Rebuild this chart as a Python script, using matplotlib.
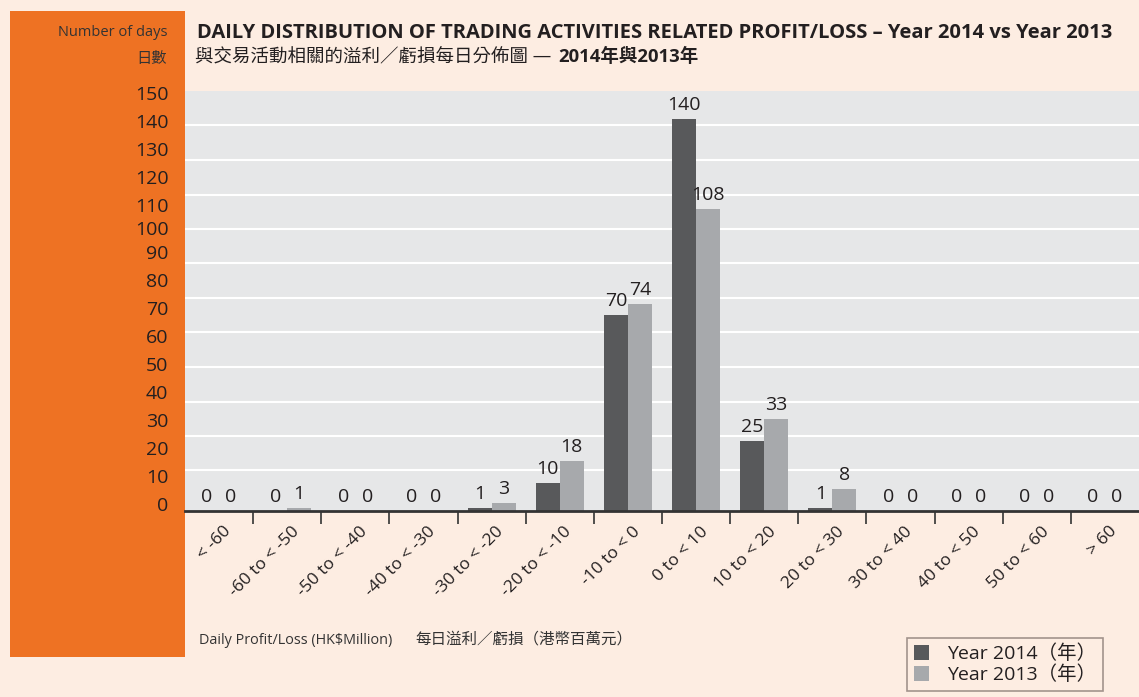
import numpy as np
import matplotlib
matplotlib.use('Agg')
from matplotlib import pyplot as plt
from matplotlib.patches import Rectangle
from matplotlib.transforms import ScaledTranslation

plt.rcParams['font.family'] = ['Open Sans', 'Noto Sans CJK TC', 'DejaVu Sans']

categories = ['< -60', '-60 to < -50', '-50 to < -40', '-40 to < -30', '-30 to < -20',
              '-20 to < -10', '-10 to < 0', '0 to < 10', '10 to < 20', '20 to < 30',
              '30 to < 40', '40 to < 50', '50 to < 60', '> 60']
days_2014 = [0, 0, 0, 0, 1, 10, 70, 140, 25, 1, 0, 0, 0, 0]
days_2013 = [0, 1, 0, 0, 3, 18, 74, 108, 33, 8, 0, 0, 0, 0]
y_ticks = list(range(0, 151, 10))
# white guide lines as drawn in the original (not on the tick values)
grid_lines = [14.6, 26.9, 39.1, 51.4, 63.8, 76.1, 88.4, 100.7, 113.0, 125.4, 137.9]

bg = '#FDEDE2'
orange = '#EE7223'
dark = '#58595B'
light = '#A7A9AC'
txt = '#231F20'

W, H = 1139, 697
fig = plt.figure(figsize=(W / 100, H / 100), dpi=100, facecolor=bg)

# orange side panel
fig.add_artist(Rectangle((10 / W, 1 - 657 / H), 175 / W, 646 / H,
                         transform=fig.transFigure, facecolor=orange,
                         edgecolor='none', zorder=0))

ax = fig.add_axes([185 / W, 1 - 511 / H, (W - 185) / W, 420 / H])
ax.set_facecolor('#E6E7E8')
ax.set_zorder(1)

x = np.arange(len(categories))
bw = 0.352
b1 = ax.bar(x - bw / 2, days_2014, bw, color=dark, zorder=3, label='Year 2014（年）')
b2 = ax.bar(x + bw / 2, days_2013, bw, color=light, zorder=3, label='Year 2013（年）')
for c in (b1, b2):
    ax.bar_label(c, padding=3.5, fontsize=14, color=txt)

for g in grid_lines:
    ax.axhline(g, color='white', lw=1.5, zorder=1)

ax.set_xlim(-0.5, len(categories) - 0.5)
ax.set_ylim(0, 150)

for s in ['top', 'right', 'left']:
    ax.spines[s].set_visible(False)
ax.spines['bottom'].set_color('#333333')
ax.spines['bottom'].set_linewidth(2)
ax.spines['bottom'].set_zorder(4)

# x: ticks on the category boundaries, labels at the centres
ax.set_xticks(x[:-1] + 0.5)
ax.set_xticklabels([])
ax.tick_params(axis='x', which='major', length=9, width=1.2, color='#333333', direction='out')
ax.set_xticks(x, minor=True)
ax.set_xticklabels(categories, minor=True, rotation=45, ha='right', va='top',
                   rotation_mode='anchor', fontsize=12.5, color=txt)
ax.tick_params(axis='x', which='minor', length=0, pad=9)
for lab in ax.get_xticklabels(minor=True):
    lab.set_transform(lab.get_transform() + ScaledTranslation(4 / 100, 0, fig.dpi_scale_trans))

# y: labels sit in the orange panel, a little above their values
ax.set_yticks(y_ticks)
ax.set_yticklabels([str(v) for v in y_ticks], fontsize=14, color=txt)
ax.tick_params(axis='y', length=0, pad=12)
for v, lab in zip(y_ticks, ax.get_yticklabels()):
    nudge = 7 if v < 100 else (3 if v == 100 else -2)
    lab.set_transform(lab.get_transform() + ScaledTranslation(0, nudge / 100, fig.dpi_scale_trans))

# texts
fig.text(167 / W, 1 - 33 / H, 'Number of days', ha='right', va='center', fontsize=10.5, color='#333333')
fig.text(167 / W, 1 - 60 / H, '日數', ha='right', va='center', fontsize=11, color='#333333')
fig.text(197 / W, 1 - 33 / H,
         'DAILY DISTRIBUTION OF TRADING ACTIVITIES RELATED PROFIT/LOSS – Year 2014 vs Year 2013',
         ha='left', va='center', fontsize=14.5, fontweight='bold', color=txt)
fig.text(195 / W, 1 - 57 / H, '與交易活動相關的溢利／虧損每日分佈圖 —', ha='left', va='center',
         fontsize=13.3, fontweight='medium', color=txt)
fig.text(558 / W, 1 - 57 / H, '2014年與2013年', ha='left', va='center',
         fontsize=13.3, fontweight='bold', color=txt)
fig.text(199 / W, 1 - 640 / H, 'Daily Profit/Loss (HK$Million)',
         ha='left', va='center', fontsize=10.4, color='#333333')
fig.text(415 / W, 1 - 640 / H, '每日溢利／虧損（港幣百萬元）',
         ha='left', va='center', fontsize=11.2, color='#333333')

leg = fig.legend(handles=[b1, b2], loc='upper left', bbox_to_anchor=(907 / W, 1 - 638 / H),
                 borderaxespad=0, frameon=True, fancybox=False, fontsize=14,
                 handlelength=0.8, handleheight=0.8, handletextpad=0.9,
                 labelspacing=0.1, borderpad=0.35, labelcolor=txt)
leg.get_frame().set_edgecolor('#8B7D77')
leg.get_frame().set_facecolor(bg)
leg.get_frame().set_linewidth(1.2)

fig.savefig('out.png', dpi=100, facecolor=bg)
